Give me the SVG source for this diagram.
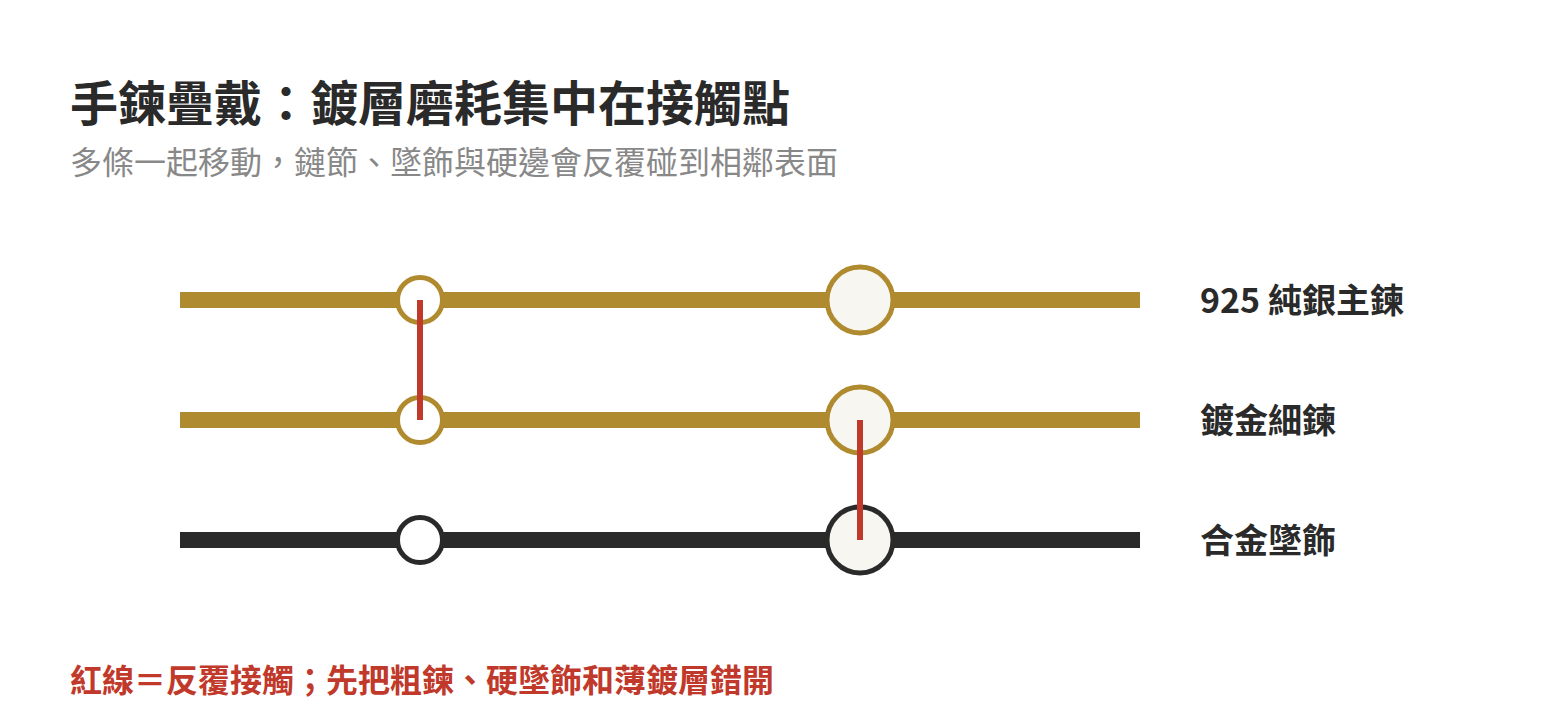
<svg xmlns="http://www.w3.org/2000/svg" width="1546" height="720" viewBox="0 0 1546 720">
<style>
text{font-family:"Noto Sans CJK TC","Noto Sans CJK SC",sans-serif}
.title{font-size:48px;font-weight:700;fill:#2a2a2a}
.sub{font-size:32px;font-weight:400;fill:#888888}
.lbl{font-size:34px;font-weight:700;fill:#2a2a2a}
.foot{font-size:32px;font-weight:700;fill:#c0392b}
.rail{stroke-width:16;fill:none}
.gold{stroke:#b08a2e}
.dark{stroke:#2a2a2a}
.small{fill:#ffffff;stroke-width:5}
.big{fill:#f8f6f0;stroke-width:5}
.contact{stroke:#c0392b;stroke-width:6}
</style>
<rect width="1546" height="720" fill="#ffffff"/>
<text class="title" x="70" y="121">手鍊疊戴：鍍層磨耗集中在接觸點</text>
<text class="sub" x="70" y="174">多條一起移動，鏈節、墜飾與硬邊會反覆碰到相鄰表面</text>
<g id="chain-silver">
<line class="rail gold" x1="180" y1="300" x2="1140" y2="300"/>
<circle class="small gold" cx="420" cy="300" r="22.5"/>
<circle class="big gold" cx="860" cy="300" r="33"/>
<text class="lbl" x="1200" y="313">925 純銀主鍊</text>
</g>
<g id="chain-gold">
<line class="rail gold" x1="180" y1="420" x2="1140" y2="420"/>
<circle class="small gold" cx="420" cy="420" r="22.5"/>
<circle class="big gold" cx="860" cy="420" r="33"/>
<text class="lbl" x="1200" y="433">鍍金細鍊</text>
</g>
<g id="pendant-alloy">
<line class="rail dark" x1="180" y1="540" x2="1140" y2="540"/>
<circle class="small dark" cx="420" cy="540" r="22.5"/>
<circle class="big dark" cx="860" cy="540" r="33"/>
<text class="lbl" x="1200" y="553">合金墜飾</text>
</g>
<g id="connectors">
<line class="contact" x1="420" y1="300" x2="420" y2="420"/>
<line class="contact" x1="860" y1="420" x2="860" y2="540"/>
</g>
<text class="foot" x="70" y="692">紅線＝反覆接觸；先把粗鍊、硬墜飾和薄鍍層錯開</text>
</svg>
